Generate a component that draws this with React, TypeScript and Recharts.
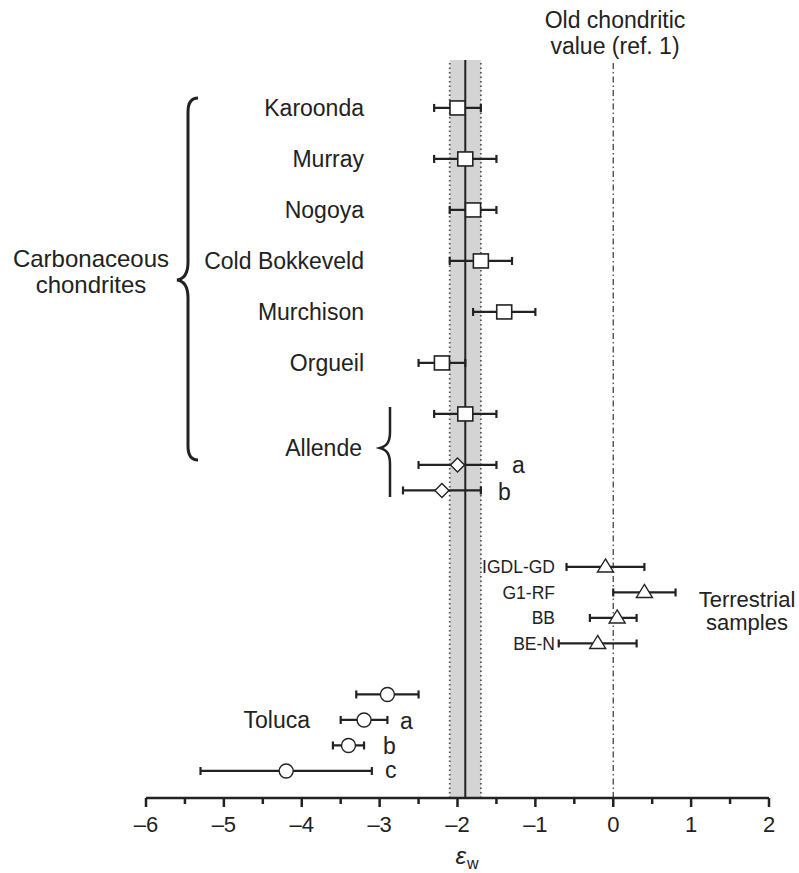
import React from "react"
import { ErrorBar, ReferenceArea, ReferenceLine, Scatter, ScatterChart, XAxis, YAxis } from "recharts"

// carbonaceous chondrites (squares)
const chondNames = ["Karoonda", "Murray", "Nogoya", "Cold Bokkeveld", "Murchison", "Orgueil", "Allende"]
const chondSlot = [0, 2, 4, 6, 8, 10, 12]
const chondVal = [-2.0, -1.9, -1.8, -1.7, -1.4, -2.2, -1.9]
const chondLo = [-2.3, -2.3, -2.1, -2.1, -1.8, -2.5, -2.3]
const chondHi = [-1.7, -1.5, -1.5, -1.3, -1.0, -1.9, -1.5]

// Allende a, b (diamonds)
const allendeSlot = [14, 15]
const allendeVal = [-2.0, -2.2]
const allendeLo = [-2.5, -2.7]
const allendeHi = [-1.5, -1.7]

// terrestrial samples (triangles)
const terrNames = ["IGDL-GD", "G1-RF", "BB", "BE-N"]
const terrSlot = [18, 19, 20, 21]
const terrVal = [-0.1, 0.4, 0.05, -0.2]
const terrLo = [-0.6, 0.0, -0.3, -0.7]
const terrHi = [0.4, 0.8, 0.3, 0.3]

// Toluca (circles)
const tolucaSlot = [23, 24, 25, 26]
const tolucaVal = [-2.9, -3.2, -3.4, -4.2]
const tolucaLo = [-3.3, -3.5, -3.6, -5.3]
const tolucaHi = [-2.5, -2.9, -3.2, -3.1]

const xTicks = [-6, -5.5, -5, -4.5, -4, -3.5, -3, -2.5, -2, -1.5, -1, -0.5, 0, 0.5, 1, 1.5, 2]
const bandLo = -2.1
const bandHi = -1.7
const meanVal = -1.9
const oldValue = 0

const build = (slot: number[], val: number[], lo: number[], hi: number[]) =>
  slot.map((s, i) => ({ slot: s, x: val[i], err: [val[i] - lo[i], hi[i] - val[i]] }))

const ink = "#222"

const Square = (p: any) => (
  <rect x={p.cx - 7.5} y={p.cy - 7} width={15} height={14} fill="#fff" stroke={ink} strokeWidth={1.6} />
)
const Diamond = (p: any) => (
  <path d={`M${p.cx},${p.cy - 7} L${p.cx + 7},${p.cy} L${p.cx},${p.cy + 7} L${p.cx - 7},${p.cy} Z`} fill="#fff" stroke={ink} strokeWidth={1.4} />
)
const Triangle = (p: any) => (
  <path d={`M${p.cx},${p.cy - 8} L${p.cx + 8},${p.cy + 5} L${p.cx - 8},${p.cy + 5} Z`} fill="#fff" stroke={ink} strokeWidth={1.4} />
)
const Circle = (p: any) => <circle cx={p.cx} cy={p.cy} r={7} fill="#fff" stroke={ink} strokeWidth={1.4} />

const AxisTick = (p: any) => {
  const v = p.payload.value
  const major = Number.isInteger(v)
  return (
    <g>
      <line x1={p.x} x2={p.x} y1={p.y} y2={p.y + (major ? 9 : 6)} stroke={ink} strokeWidth={2.5} />
      {major && (
        <text x={p.x} y={p.y + 34} textAnchor="middle" fontSize={22} fill={ink}>
          {v < 0 ? "\u2013" + Math.abs(v) : String(v)}
        </text>
      )}
    </g>
  )
}

export default function App() {
  const font = "'Liberation Sans', Arial, Helvetica, sans-serif"
  return (
    <div style={{ position: "absolute", left: 0, top: 0, width: 799, height: 873, background: "#fff", fontFamily: font }}>
      <ScatterChart width={799} height={873} margin={{ top: 60, right: 30, left: 146, bottom: 15 }}>
        <XAxis
          type="number"
          dataKey="x"
          domain={[-6, 2]}
          ticks={xTicks}
          interval={0}
          height={60}
          tickSize={0}
          tickMargin={0}
          tickLine={false}
          axisLine={{ stroke: ink, strokeWidth: 2.5 }}
          tick={<AxisTick />}
          allowDataOverflow
        />
        <YAxis type="number" dataKey="slot" domain={[-1.88, 27.06]} reversed hide allowDataOverflow />
        <ReferenceArea x1={bandLo} x2={bandHi} fill="#d4d4d4" fillOpacity={1} stroke="none" ifOverflow="hidden" />
        <ReferenceLine x={bandLo} stroke="#555" strokeWidth={1.8} strokeDasharray="1.5 3" />
        <ReferenceLine x={bandHi} stroke="#555" strokeWidth={1.8} strokeDasharray="1.5 3" />
        <ReferenceLine x={meanVal} stroke={ink} strokeWidth={2} />
        <ReferenceLine x={oldValue} stroke="#444" strokeWidth={1.3} strokeDasharray="6 3 1.5 3" />
        <Scatter data={build(chondSlot, chondVal, chondLo, chondHi)} shape={Square} isAnimationActive={false}>
          <ErrorBar dataKey="err" direction="x" width={4} stroke={ink} strokeWidth={2.2} />
        </Scatter>
        <Scatter data={build(allendeSlot, allendeVal, allendeLo, allendeHi)} shape={Diamond} isAnimationActive={false}>
          <ErrorBar dataKey="err" direction="x" width={4} stroke={ink} strokeWidth={2.2} />
        </Scatter>
        <Scatter data={build(terrSlot, terrVal, terrLo, terrHi)} shape={Triangle} isAnimationActive={false}>
          <ErrorBar dataKey="err" direction="x" width={4} stroke={ink} strokeWidth={2.2} />
        </Scatter>
        <Scatter data={build(tolucaSlot, tolucaVal, tolucaLo, tolucaHi)} shape={Circle} isAnimationActive={false}>
          <ErrorBar dataKey="err" direction="x" width={4} stroke={ink} strokeWidth={2.2} />
        </Scatter>
      </ScatterChart>
      <svg width={799} height={873} style={{ position: "absolute", left: 0, top: 0, pointerEvents: "none" }} fontFamily={font} fill={ink}>
        <text x={615} y={28} textAnchor="middle" fontSize={23}>Old chondritic</text>
        <text x={615} y={54} textAnchor="middle" fontSize={23}>value (ref. 1)</text>
        {chondNames.map((n, i) => (
          <text key={n} x={364} y={108 + chondSlot[i] * 25.5 + 8} textAnchor="end" fontSize={23}>
            {i === 6 ? "" : n}
          </text>
        ))}
        <text x={362} y={456} textAnchor="end" fontSize={23}>Allende</text>
        <text x={91} y={267} textAnchor="middle" fontSize={24}>Carbonaceous</text>
        <text x={91} y={293} textAnchor="middle" fontSize={24}>chondrites</text>
        <path d="M198,98 C190,98 188,104 188,112 L188,262 C188,274 184,279 177,280 C184,281 188,286 188,298 L188,446 C188,454 190,460 198,460" fill="none" stroke={ink} strokeWidth={3} />
        <path d="M390,407 L390,432 C390,442 387,446 380,448 C387,450 390,454 390,464 L390,497" fill="none" stroke={ink} strokeWidth={2.5} />
        <text x={512} y={473} fontSize={23}>a</text>
        <text x={498} y={500} fontSize={23}>b</text>
        {terrNames.map((n, i) => (
          <text key={n} x={555} y={108 + terrSlot[i] * 25.5 + 6} textAnchor="end" fontSize={17.5}>{n}</text>
        ))}
        <text x={747} y={607} textAnchor="middle" fontSize={22}>Terrestrial</text>
        <text x={747} y={630} textAnchor="middle" fontSize={22}>samples</text>
        <text x={310} y={728} textAnchor="end" fontSize={23}>Toluca</text>
        <text x={400} y={729} fontSize={23}>a</text>
        <text x={383} y={754} fontSize={23}>b</text>
        <text x={385} y={778} fontSize={23}>c</text>
        <text x={466} y={864} textAnchor="end" fontSize={24} fontStyle="italic">ε</text>
        <text x={467} y={869} fontSize={16}>w</text>
      </svg>
    </div>
  )
}
